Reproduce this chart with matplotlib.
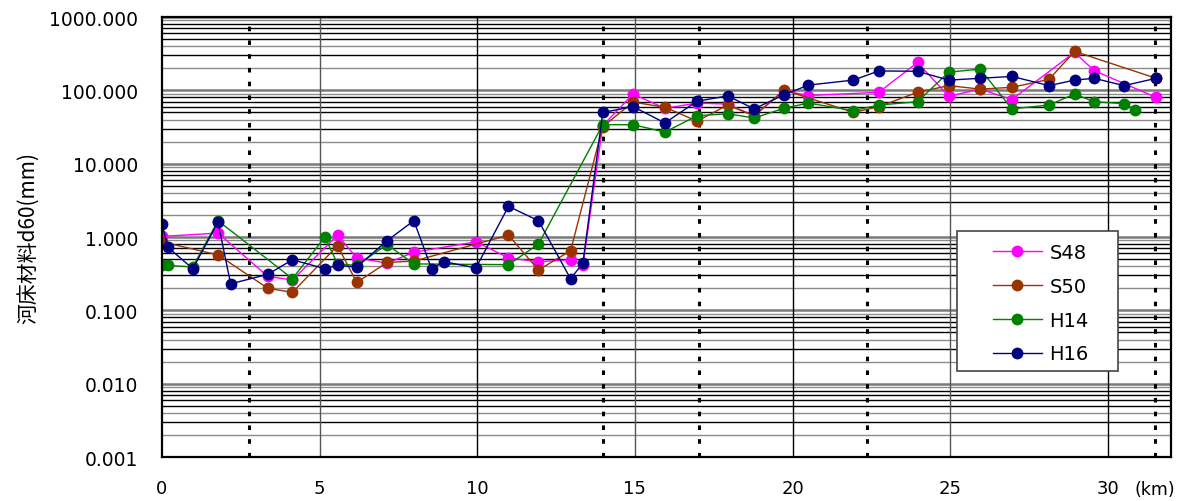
import matplotlib
matplotlib.use("Agg")
import matplotlib.pyplot as plt
from matplotlib.patches import Rectangle

# 距離標 (km) と 河床材料 d60 (mm)
s48_km = [0, 1.78, 3.36, 4.14, 5.57, 6.18, 7.14, 7.99, 9.96, 10.99, 11.94, 12.96, 13.35,
          13.98, 14.94, 15.95, 16.97, 17.94, 18.78, 19.73, 20.5, 22.73, 23.96, 24.95,
          25.95, 26.95, 28.94, 29.56, 31.53]
s48_d60 = [1.02, 1.13, 0.29, 0.26, 1.06, 0.52, 0.44, 0.62, 0.86, 0.52, 0.46, 0.49, 0.41,
           33, 89, 57, 67, 65, 45, 99, 85, 94, 240, 83,
           104, 75, 330, 186, 80]

s50_km = [0, 1.78, 3.36, 4.14, 5.57, 6.18, 7.14, 7.99, 10.99, 11.94, 12.96,
          13.98, 14.94, 15.95, 16.97, 17.94, 18.78, 19.73, 21.93, 22.73, 23.96, 24.95,
          25.95, 26.95, 28.13, 28.94, 31.53]
s50_d60 = [0.86, 0.57, 0.20, 0.176, 0.76, 0.24, 0.45, 0.47, 1.06, 0.355, 0.65,
           32, 69, 59, 38, 63, 45, 101, 50, 60, 94, 116,
           104, 110, 141, 340, 146]

h14_km = [0, 0.2, 0.98, 1.78, 4.14, 5.17, 5.57, 6.18, 7.14, 7.99, 10.99, 11.94,
          13.98, 14.94, 15.95, 16.97, 17.94, 18.78, 19.73, 20.5, 21.93, 22.73, 23.96,
          24.95, 25.95, 26.95, 28.13, 28.94, 29.56, 30.51, 30.86]
h14_d60 = [0.41, 0.41, 0.39, 1.67, 0.27, 1.0, 0.43, 0.41, 0.79, 0.43, 0.42, 0.80,
           34, 34, 27, 45, 48, 42, 57, 67, 53, 63, 70,
           177, 195, 56, 63, 89, 70, 66, 54]

h16_km = [0, 0.2, 0.98, 1.78, 2.18, 3.36, 4.14, 5.17, 5.57, 6.18, 7.14, 7.99, 8.55,
          8.95, 9.96, 10.99, 11.94, 12.96, 13.35,
          13.98, 14.94, 15.95, 16.97, 17.94, 18.78, 19.73, 20.5, 21.93, 22.73, 23.96,
          24.95, 25.95, 26.95, 28.13, 28.94, 29.56, 30.51, 31.53]
h16_d60 = [1.5, 0.72, 0.37, 1.59, 0.23, 0.31, 0.49, 0.37, 0.41, 0.39, 0.89, 1.67, 0.37,
           0.46, 0.38, 2.62, 1.67, 0.27, 0.44,
           50, 60, 36, 71, 84, 56, 87, 118, 138, 184, 182,
           138, 146, 155, 116, 138, 146, 116, 146]

# 区間境界 (点線)
boundary_km = [2.76, 14.0, 17.02, 22.35, 31.5]

y_ticks = [0.001, 0.01, 0.1, 1, 10, 100, 1000]
x_ticks = [0, 5, 10, 15, 20, 25, 30]

series = [
    ("S48", s48_km, s48_d60, "#FF00FF"),
    ("S50", s50_km, s50_d60, "#993300"),
    ("H14", h14_km, h14_d60, "#008000"),
    ("H16", h16_km, h16_d60, "#000080"),
]

W, H = 1199, 502
fig = plt.figure(figsize=(W / 100, H / 100), dpi=100)
ax = fig.add_axes([0.135, 0.0876, 0.8417, 0.8765])
ax.set_yscale("log")
ax.set_xlim(0, 32)
ax.set_ylim(0.001, 1000)

# 格子線
for k in range(-3, 3):
    for s in range(2, 10):
        c = "#000000" if s in (3, 5, 6, 7, 8) else "#8c8c8c"
        ax.axhline(s * 10.0 ** k, color=c, lw=1.0, zorder=1)
for v in y_ticks:
    ax.axhline(v, color="#7a7a7a", lw=1.8, zorder=1)
for v in x_ticks[1:]:
    ax.axvline(v, color="#555555" if v % 10 else "#000000", lw=1.0, zorder=1)
for b in boundary_km:
    ax.axvline(b, color="black", lw=2.2, linestyle=(0, (1.5, 3)), zorder=2)

handles = []
for name, xs, ys, col in series:
    h, = ax.plot(xs, ys, color=col, lw=1.0, marker="o", markersize=8.5,
                 markeredgewidth=0, label=name, zorder=3)
    handles.append(h)

ax.set_yticks(y_ticks)
ax.set_yticklabels([f"{v:.3f}" for v in y_ticks])
ax.yaxis.set_minor_locator(matplotlib.ticker.NullLocator())
ax.set_xticks(x_ticks)
ax.set_xticklabels([str(v) for v in x_ticks])
ax.tick_params(axis="y", length=0, pad=17, labelsize=13.5)
ax.tick_params(axis="x", length=0, pad=16, labelsize=13)
for sp in ax.spines.values():
    sp.set_color("black")
    sp.set_linewidth(1.6)
    sp.set_zorder(5)

ax.set_ylabel("河床材料d60(mm)", family=["Noto Sans CJK JP", "DejaVu Sans"],
              fontsize=15, labelpad=7)
fig.text(1155 / W, 1 - 490 / H, "(km)", fontsize=12.5, ha="center", va="center")

# 凡例
box = Rectangle((957 / W, 1 - 372 / H), 161 / W, 140 / H, transform=fig.transFigure,
                facecolor="white", edgecolor="#444444", lw=1.2, zorder=6)
ax.add_patch(box)
leg = ax.legend(handles=handles, loc="upper left", frameon=False,
                bbox_to_anchor=(993 / W, 1 - 244 / H),
                bbox_transform=fig.transFigure, fontsize=14,
                handlelength=2.5, handletextpad=0.4, labelspacing=0.76,
                borderpad=0, borderaxespad=0)
leg.set_zorder(7)

fig.savefig("out.png", dpi=100)
